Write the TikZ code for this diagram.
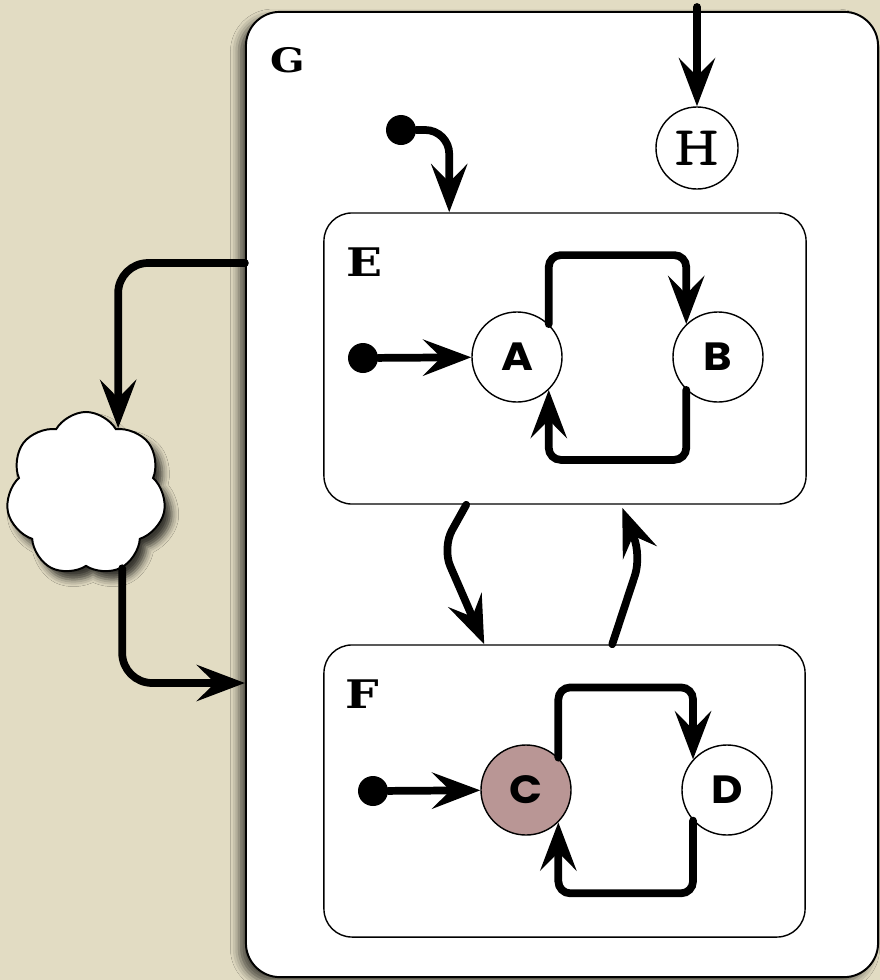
\documentclass[tikz,border=0pt]{standalone}
\usepackage{fontspec}
\usepackage{xcolor}
\usetikzlibrary{arrows.meta, calc, shapes.symbols, shadows.blur}

\newfontfamily\labelfont[FakeStretch=1.1]{Poppins}
\newfontfamily\boxfont[FakeStretch=1.2]{DejaVu Serif}
\definecolor{parchment}{RGB}{226,220,195}
\definecolor{activestate}{RGB}{185,150,149}

\begin{document}
\begin{tikzpicture}[
    x=0.025cm, y=-0.025cm,
    superstate/.style={rectangle, draw, line width=1pt, fill=white, rounded corners=0.7cm, inner sep=0pt},
    state/.style={circle, draw, line width=1pt, fill=white, minimum size=2.25cm, inner sep=0pt, font=\labelfont\bfseries\fontsize{28}{28}\selectfont},
    boxlabel/.style={inner sep=0pt, font=\boxfont\bfseries\fontsize{28}{28}\selectfont},
    initdot/.style={circle, fill=black, minimum size=0.75cm, inner sep=0pt},
    trans/.style={line width=5.5pt, line cap=round, -{Stealth[length=1.2cm, width=0.9cm, inset=0.45cm]}}
]
\useasboundingbox (0,0) rectangle (880,980);
\fill[parchment] (0,0) rectangle (880,980);

% outer state G
\node (G) [superstate, line width=1.4pt, rounded corners=0.85cm, minimum width=15.8cm, minimum height=24.125cm,
    blur shadow={shadow xshift=-5pt, shadow yshift=-4pt, shadow blur radius=6pt, shadow opacity=65}] at (562,494.5) {};
\node (Glabel) [boxlabel, font=\boxfont\bfseries\fontsize{24}{24}\selectfont] at (288,60) {G};

% cloud outside G
\node (cloud) [cloud, cloud puffs=7, cloud puff arc=120, aspect=1, draw, line width=1.4pt, fill=white,
    minimum width=4cm, minimum height=4.1cm, shape border rotate=12,
    blur shadow={shadow xshift=5pt, shadow yshift=-6pt, shadow blur radius=5pt, shadow opacity=75}] at (86,494) {};

% history state
\node (H) [state, font=\ttfamily\fontsize{40}{40}\selectfont, minimum size=2.05cm] at (697,148) {\scalebox{1.55}[1]{H}};
\coordinate (Htop) at (697,7);

% initial state of G
\node (initG) [initdot] at (401,130) {};

% superstate E
\node (E) [superstate, minimum width=12.05cm, minimum height=7.275cm] at (565,358.5) {};
\node (Elabel) [boxlabel] at (365,262) {E};
\node (initE) [initdot] at (363,358) {};
\node (A) [state] at (517,357) {A};
\node (B) [state] at (718,357) {B};

% superstate F
\node (F) [superstate, minimum width=12.025cm, minimum height=7.3cm] at (564.5,791) {};
\node (Flabel) [boxlabel] at (362,694) {F};
\node (initF) [initdot] at (373,791) {};
\node (C) [state, fill=activestate] at (526,790) {C};
\node (D) [state] at (727,790) {D};

% points on the edge of G
\coordinate (Gout) at (G.west |- 0,263);
\coordinate (Gin) at (G.west |- 0,683);

\draw[trans] (Htop) -- (H);
\draw[trans, rounded corners=0.6cm] (initG) -| ($(E.north west)+(126,0)$);

\draw[trans, rounded corners=0.75cm] (Gout) -| (cloud.64);
\draw[trans, rounded corners=0.75cm] (cloud.296) |- (Gin);

\draw[trans] (initE) -- (A);
\draw[trans, rounded corners=0.3cm] (A.46) |- ($(B.134)+(0,-69)$) -- (B.134);
\draw[trans, rounded corners=0.3cm] (B.226) |- ($(A.314)+(0,70)$) -- (A.314);

\draw[trans] (initF) -- (C);
\draw[trans, rounded corners=0.3cm] (C.45) |- ($(D.138)+(0,-72)$) -- (D.138);
\draw[trans, rounded corners=0.3cm] (D.222) |- ($(C.315)+(0,71)$) -- (C.315);

\draw[trans, rounded corners=0.5cm] ($(E.south west)+(143,0)$) -- ++(-24,43) -- ($(F.north west)+(161,0)$);
\draw[trans, rounded corners=0.5cm] ($(F.north west)+(289,0)$) -- ++(29,-88) -- ($(E.south west)+(299,3)$);

\end{tikzpicture}
\end{document}
